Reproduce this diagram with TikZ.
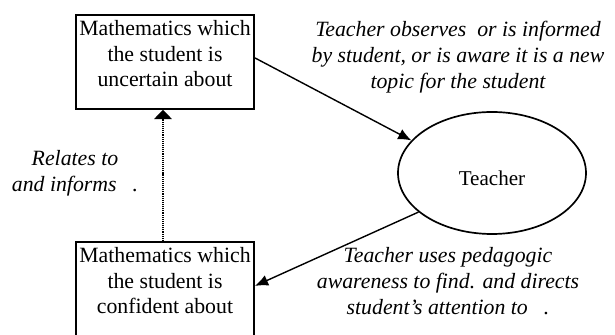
\documentclass[tikz,border=0pt]{standalone}
\usepackage{fontspec}
\setmainfont{Liberation Serif}
\usetikzlibrary{
    arrows.meta,
    shapes.geometric
}

\begin{document}
\begin{tikzpicture}[
    mathbox/.style={
        draw=black,
        line width=1.3pt,
        minimum width=4.45cm,
        inner xsep=0pt,
        inner ysep=0.14cm,
        text height=1.66cm,
        text depth=0.41cm,
        align=center,
        anchor=north,
        font=\fontsize{15.5pt}{18.4pt}\selectfont
    },
%
    agent/.style={
        draw=black,
        ellipse,
        line width=1.2pt,
        minimum width=4.7cm,
        minimum height=3.05cm,
        inner sep=0pt,
        text height=0.65cm,
        text depth=0pt,
        font=\fontsize{15pt}{18pt}\selectfont
    },
%
    note/.style={
        align=center,
        inner sep=0pt,
        font=\fontsize{15.5pt}{18.4pt}\selectfont\itshape
    },
%
    arrow/.style={
        -{Latex[length=3.3mm,width=2.8mm]},
        line width=1pt
    },
%
    link/.style={
        -{Triangle[length=2.3mm,width=4.4mm]},
        dash pattern=on 0.8pt off 0.7pt,
        line width=1.1pt
    }
]
\useasboundingbox (0,0) rectangle (15.375,8.375);
%
% Mathematics boxes
%
\node[mathbox] (uncertain) at (4.125,8.025) {
    Mathematics which\\
    the student is\\
    uncertain about
};
%
\node[
    mathbox,
    text depth=0.66cm
] (confident) at (4.125,2.35) {
    Mathematics which\\
    the student is\\
    confident about
};
%
% Teacher
%
\node[agent] (teacher) at (12.3,4.05) {Teacher};
%
% Notes
%
\node[note] (observes) at (11.45,6.95) {
    Teacher observes\ \ or is informed\\
    by student, or is aware it is a new\\
    topic for the student
};
%
\node[note] (directs) at (11.2,1.35) {
    Teacher uses pedagogic\\
    awareness to find. and directs\\
    student's attention to\hspace{0.4cm}.
};
%
\node[note] (relates) at (1.875,4.04) {
    Relates to\\
    and informs\hspace{0.4cm}.
};
%
% Connectors
%
\draw[arrow] ([yshift=0.1cm]uncertain.east) -- (teacher.158);
\draw[arrow] (teacher.208) -- ([yshift=0.2cm]confident.east);
\draw[link] ([xshift=-0.05cm]confident.north) -- ([xshift=-0.05cm]uncertain.south);
%
\end{tikzpicture}
\end{document}
